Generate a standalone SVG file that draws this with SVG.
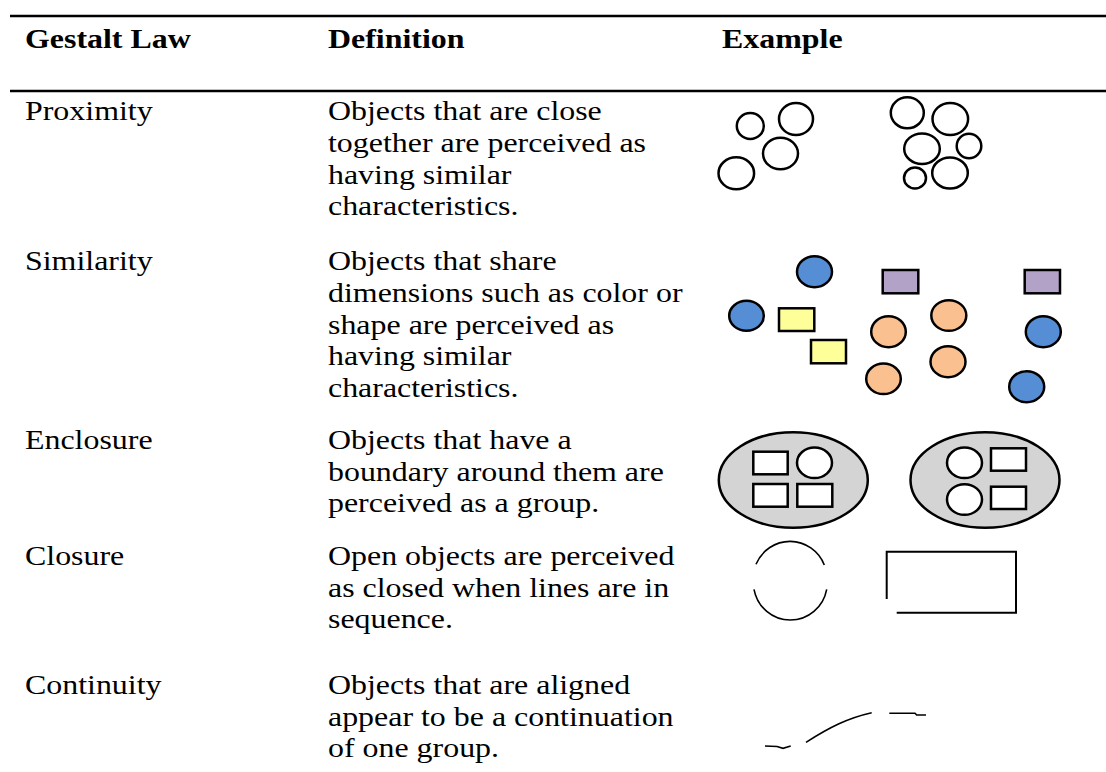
<svg xmlns="http://www.w3.org/2000/svg" width="1106" height="772" viewBox="0 0 1106 772">
<style>
text{font-family:"Liberation Serif","Times New Roman",serif;font-size:28px;fill:#000}
.h{font-weight:bold}
.rule{stroke:#000;stroke-width:2.5}
.o{fill:#fff;stroke:#000;stroke-width:2.5}
.s{stroke:#000;stroke-width:2.5}
.blue{fill:#558ED5}.yel{fill:#FFFF99}.pur{fill:#B3A2C7}.org{fill:#FAC090}
.enc{fill:#D4D4D4;stroke:#000;stroke-width:2.5}
.thin{fill:none;stroke:#000;stroke-width:1.6}
</style>
<rect width="1106" height="772" fill="#fff"/>
<g id="rules">
<line class="rule" x1="10" y1="16" x2="1106" y2="16"/>
<line class="rule" x1="10" y1="91" x2="1106" y2="91"/>
</g>
<g id="header">
<g transform="scale(1.14 1)">
<text class="h" x="21.93" y="48">Gestalt Law</text>
<text class="h" x="287.72" y="48">Definition</text>
<text class="h" x="633.33" y="48">Example</text>
</g>
</g>
<g id="proximity">
<g transform="scale(1.14 1)">
<text x="21.93" y="120">Proximity</text>
<text x="287.72" y="120">Objects that are close</text>
<text x="287.72" y="152">together are perceived as</text>
<text x="287.72" y="184">having similar</text>
<text x="287.72" y="215">characteristics.</text>
</g>
<ellipse class="o" cx="750.3" cy="126" rx="13.5" ry="13"/>
<ellipse class="o" cx="796" cy="119" rx="17" ry="16"/>
<ellipse class="o" cx="780.5" cy="153.5" rx="17.5" ry="15.8"/>
<ellipse class="o" cx="736.3" cy="173.3" rx="17.8" ry="16"/>
<ellipse class="o" cx="907.3" cy="112.8" rx="16.5" ry="15.5"/>
<ellipse class="o" cx="950.3" cy="119" rx="17.8" ry="16"/>
<ellipse class="o" cx="922" cy="148.7" rx="17.8" ry="15.3"/>
<ellipse class="o" cx="969" cy="146" rx="12.3" ry="12.3"/>
<ellipse class="o" cx="915" cy="178" rx="11" ry="10.5"/>
<ellipse class="o" cx="950" cy="173" rx="17.8" ry="15.5"/>
</g>
<g id="similarity">
<g transform="scale(1.14 1)">
<text x="21.93" y="270">Similarity</text>
<text x="287.72" y="270">Objects that share</text>
<text x="287.72" y="302">dimensions such as color or</text>
<text x="287.72" y="334">shape are perceived as</text>
<text x="287.72" y="365">having similar</text>
<text x="287.72" y="397">characteristics.</text>
</g>
<ellipse class="s blue" cx="814.5" cy="271.7" rx="17.5" ry="15.5"/>
<ellipse class="s blue" cx="746.5" cy="315.8" rx="17.3" ry="15"/>
<rect class="s yel" x="779" y="308.3" width="35.3" height="22.7"/>
<rect class="s yel" x="811" y="340" width="35" height="23.3"/>
<rect class="s pur" x="882.7" y="270" width="35.6" height="23.3"/>
<rect class="s pur" x="1024.7" y="270" width="35.3" height="23.3"/>
<ellipse class="s org" cx="888.5" cy="331.7" rx="17.3" ry="15.5"/>
<ellipse class="s org" cx="948.8" cy="315.5" rx="17.5" ry="15.3"/>
<ellipse class="s org" cx="948" cy="361.7" rx="17.5" ry="15.5"/>
<ellipse class="s org" cx="883.5" cy="378.8" rx="17.3" ry="15.3"/>
<ellipse class="s blue" cx="1043.3" cy="331.7" rx="17.5" ry="15.5"/>
<ellipse class="s blue" cx="1026.7" cy="386.7" rx="17.5" ry="15.5"/>
</g>
<g id="enclosure">
<g transform="scale(1.14 1)">
<text x="21.93" y="449">Enclosure</text>
<text x="287.72" y="449">Objects that have a</text>
<text x="287.72" y="481">boundary around them are</text>
<text x="287.72" y="512">perceived as a group.</text>
</g>
<ellipse class="enc" cx="793.3" cy="480" rx="74.5" ry="47.8"/>
<rect class="o" x="753.3" y="451.7" width="34.4" height="22.6"/>
<ellipse class="o" cx="814.5" cy="462.8" rx="17.5" ry="15.3"/>
<rect class="o" x="753.3" y="484" width="34.4" height="22.7"/>
<rect class="o" x="797.3" y="484" width="35" height="22.7"/>
<ellipse class="enc" cx="985" cy="480" rx="74.5" ry="47.8"/>
<ellipse class="o" cx="964.5" cy="462.8" rx="17.5" ry="15.3"/>
<rect class="o" x="991" y="448.3" width="35" height="22.4"/>
<ellipse class="o" cx="964.5" cy="499.5" rx="17.5" ry="15.3"/>
<rect class="o" x="991" y="486.7" width="35" height="22.3"/>
</g>
<g id="closure">
<g transform="scale(1.14 1)">
<text x="21.93" y="565">Closure</text>
<text x="287.72" y="565">Open objects are perceived</text>
<text x="287.72" y="597">as closed when lines are in</text>
<text x="287.72" y="628">sequence.</text>
</g>
<path class="thin" d="M756 564.3 A37 37.8 0 0 1 824.3 565"/>
<path class="thin" d="M754 589.3 A37 37.8 0 0 0 826.7 589.3"/>
<path class="thin" style="stroke-width:2" d="M886.7 599 V551.7 H1016 V612.7 H896.7"/>
</g>
<g id="continuity">
<g transform="scale(1.14 1)">
<text x="21.93" y="694">Continuity</text>
<text x="287.72" y="694">Objects that are aligned</text>
<text x="287.72" y="726">appear to be a continuation</text>
<text x="287.72" y="757">of one group.</text>
</g>
<path class="thin" d="M765 746 L777 746.5 L783 748.3 L790.7 746"/>
<path class="thin" d="M806 742.3 C830 727 848 718 871.7 712.7"/>
<path class="thin" d="M889.3 713.3 H915 L916.7 715 H926"/>
</g>
</svg>
